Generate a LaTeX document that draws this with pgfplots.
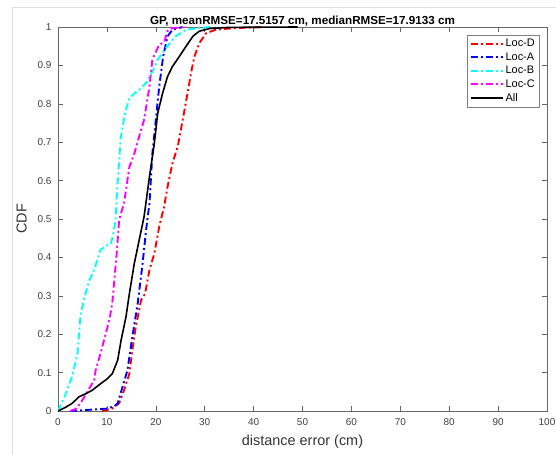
\documentclass[border=0pt]{standalone}
\usepackage{pgfplots}
\pgfplotsset{compat=1.18}
\usepackage{fontspec}
\setmainfont{Liberation Sans}
\definecolor{mred}{rgb}{1,0,0}
\definecolor{mblue}{rgb}{0,0,1}
\definecolor{mcyan}{rgb}{0,1,1}
\definecolor{mmagenta}{rgb}{1,0,1}
\tikzset{mdashdot/.style={line width=1.9bp, dash pattern=on 7bp off 3bp on 2bp off 3bp}}
\begin{document}
\begin{tikzpicture}
\useasboundingbox (-58bp,-44bp) rectangle (498bp,411bp);
\draw[black!12] (-46bp,-44bp) -- (-46bp,404bp) -- (498bp,404bp);
\begin{axis}[
  scale only axis,
  width=489bp, height=384bp,
  xmin=0, xmax=100, ymin=0, ymax=1,
  xtick={0,10,...,100},
  ytick={0,0.1,...,1},
  tick align=inside,
  major tick length=5bp,
  axis line style={black!60, line width=0.5bp},
  tick style={black!60, line width=0.5bp},
  ticklabel style={font=\fontsize{10}{12}\selectfont, text=black!75},
  xticklabel style={yshift=-4bp},
  yticklabel style={xshift=-3bp},
  /pgf/number format/assume math mode=true,
  title={\bfseries GP, meanRMSE=17.5157 cm, medianRMSE=17.9133 cm},
  title style={font=\fontsize{11.7}{13}\selectfont, yshift=-9bp},
  xlabel={distance error (cm)},
  ylabel={CDF},
  label style={font=\fontsize{14.5}{16}\selectfont, text=black!80},
  xlabel style={yshift=-3bp},
  ylabel style={yshift=4bp},
  legend style={at={(1,1)}, anchor=north east, xshift=-8bp, yshift=-8bp,
    draw=black!50, font=\fontsize{11}{12}\selectfont,
    inner sep=2bp, row sep=0.5bp},
  legend cell align=left,
  legend image code/.code={\draw[#1] (0bp,0bp) -- (32bp,0bp);},
]
\addplot[mred, mdashdot] coordinates {
(9,0)(11,0.006)(12.5,0.02)(13.5,0.054)(14.6,0.097)(15.2,0.158)(15.9,0.219)(17,0.289)(17.8,0.305)(18.7,0.367)(19.7,0.41)(20.7,0.48)(21.7,0.532)(22.4,0.584)(23.4,0.645)(24.5,0.689)(25.5,0.758)(26.5,0.828)(27.2,0.88)(27.9,0.923)(28.9,0.958)(30.3,0.984)(32.3,0.993)(36,0.997)(42,1)};
\addlegendentry{Loc-D}
\addplot[mblue, mdashdot] coordinates {
(2.5,0)(9.8,0.006)(11.5,0.012)(12.2,0.02)(13.2,0.063)(14.2,0.106)(15.2,0.193)(16.3,0.28)(17.3,0.384)(18,0.47)(18.7,0.54)(19.3,0.67)(20,0.758)(20.7,0.845)(21.5,0.923)(22.4,0.976)(23.4,0.993)(25.5,1)};
\addlegendentry{Loc-A}
\addplot[mcyan, mdashdot] coordinates {
(0,0)(1.6,0.045)(2.9,0.09)(4.0,0.15)(4.6,0.25)(5.5,0.30)(6.4,0.34)(7.4,0.367)(8.7,0.42)(9.8,0.43)(10.8,0.435)(11.3,0.46)(11.8,0.5)(12.1,0.58)(12.4,0.63)(12.8,0.71)(13.7,0.775)(14.6,0.815)(15.9,0.83)(17,0.84)(18,0.855)(19.3,0.884)(20.4,0.915)(22.1,0.946)(24.1,0.976)(26.2,0.993)(28.9,0.997)(31,1)};
\addlegendentry{Loc-B}
\addplot[mmagenta, mdashdot] coordinates {
(2.5,0)(3.6,0.005)(4.6,0.02)(6,0.05)(7.4,0.08)(7.7,0.106)(8.7,0.15)(9.4,0.184)(10.5,0.237)(11.1,0.28)(11.7,0.367)(12,0.41)(12.5,0.497)(13,0.52)(13.5,0.54)(14,0.584)(14.6,0.636)(15.6,0.67)(16.6,0.715)(17.6,0.758)(18.7,0.845)(19.3,0.915)(19.9,0.932)(20.7,0.954)(21.7,0.96)(22.4,0.99)(23.4,0.997)(26.2,1)};
\addlegendentry{Loc-C}
\addplot[black, line width=1.6bp, solid] coordinates {
(0,0)(1.6,0.01)(2.9,0.02)(4.3,0.037)(5.7,0.045)(7,0.054)(8.7,0.071)(10.1,0.084)(11.1,0.097)(12.2,0.132)(12.9,0.184)(13.9,0.245)(14.6,0.306)(15.6,0.384)(16.6,0.445)(17.6,0.506)(18.7,0.61)(19.7,0.697)(20.4,0.776)(21.4,0.828)(22.4,0.871)(23.4,0.897)(24.8,0.923)(26.2,0.95)(27.6,0.976)(28.9,0.989)(31,0.996)(35,0.999)(49,1)};
\addlegendentry{All}
\end{axis}
\end{tikzpicture}
\end{document}
